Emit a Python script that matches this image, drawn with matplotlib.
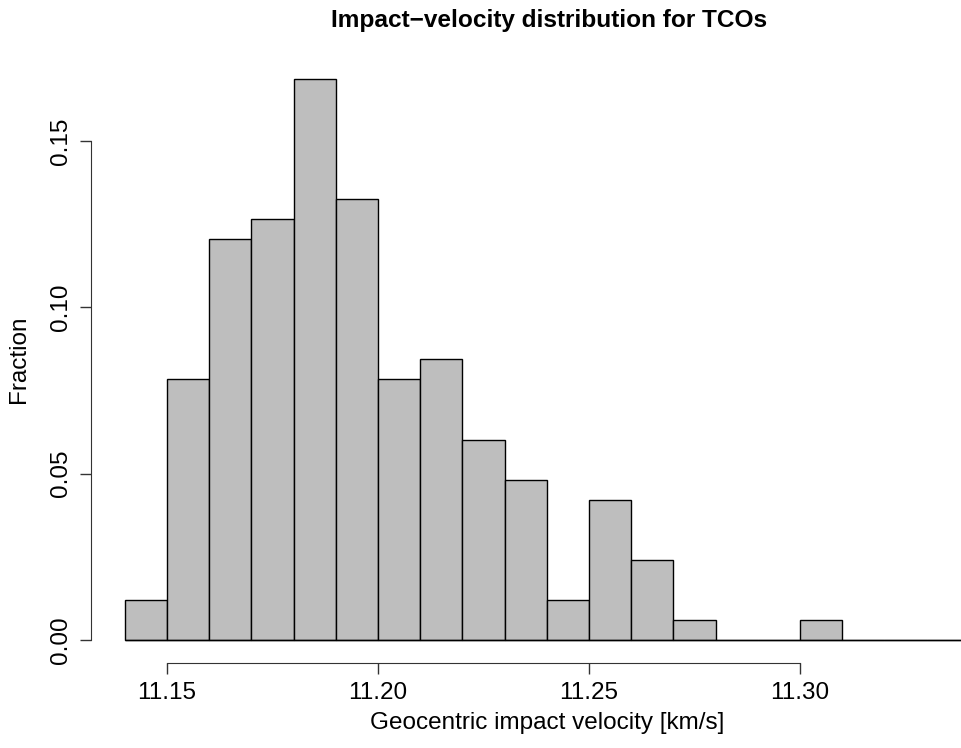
import matplotlib
matplotlib.use("Agg")
import matplotlib.pyplot as plt
import numpy as np

plt.rcParams['font.family'] = ['Liberation Sans', 'DejaVu Sans']

# histogram bins (km/s) and fractions per bin
bin_edges = [11.14, 11.15, 11.16, 11.17, 11.18, 11.19, 11.20, 11.21, 11.22, 11.23,
             11.24, 11.25, 11.26, 11.27, 11.28, 11.29, 11.30, 11.31, 11.32, 11.33, 11.34]
counts = [2, 13, 20, 21, 28, 22, 13, 14, 10, 8, 2, 7, 4, 1, 0, 0, 1, 0, 0, 0]
fractions = [c / 166 for c in counts]

x_ticks = [11.15, 11.20, 11.25, 11.30]
x_ticklabels = ['11.15', '11.20', '11.25', '11.30']
y_ticks = [0.00, 0.05, 0.10, 0.15]
y_ticklabels = ['0.00', '0.05', '0.10', '0.15']

fig = plt.figure(figsize=(9.62, 7.48), dpi=100)
ax = fig.add_axes([0.0946, 0.1143, 0.9476, 0.8108])

lefts = np.array(bin_edges[:-1])
widths = np.diff(bin_edges)
ax.bar(lefts, fractions, width=widths, align='edge', color='#bebebe',
       edgecolor='black', linewidth=1.0)
# zero-height bins still show as a line in R
ax.hlines(0, bin_edges[0], bin_edges[-1], color='black', linewidth=1.0)

ax.set_xlim(11.132, 11.348)
ax.set_ylim(-0.00675, 0.1755)

for s in ax.spines.values():
    s.set_visible(False)
ax.spines['bottom'].set_visible(True)
ax.spines['left'].set_visible(True)
ax.spines['bottom'].set_bounds(11.15, 11.30)
ax.spines['left'].set_bounds(0.0, 0.15)
ax.spines['bottom'].set_color('#333333')
ax.spines['left'].set_color('#333333')

ax.set_xticks(x_ticks)
ax.set_xticklabels(x_ticklabels)
ax.set_yticks(y_ticks)
ax.set_yticklabels(y_ticklabels, rotation=90, va='center')
ax.tick_params(axis='both', length=8, width=1.0, labelsize=17.5, color='#333333', pad=6)

ax.set_xlabel('Geocentric impact velocity [km/s]', fontsize=17.5, labelpad=6)
ax.set_ylabel('Fraction', fontsize=17.5, labelpad=14)
fig.text(0.5707, 0.972, 'Impact\u2212velocity distribution for TCOs', fontsize=17.6,
         fontweight='bold', ha='center', va='center')

fig.savefig('out.png', dpi=100)
